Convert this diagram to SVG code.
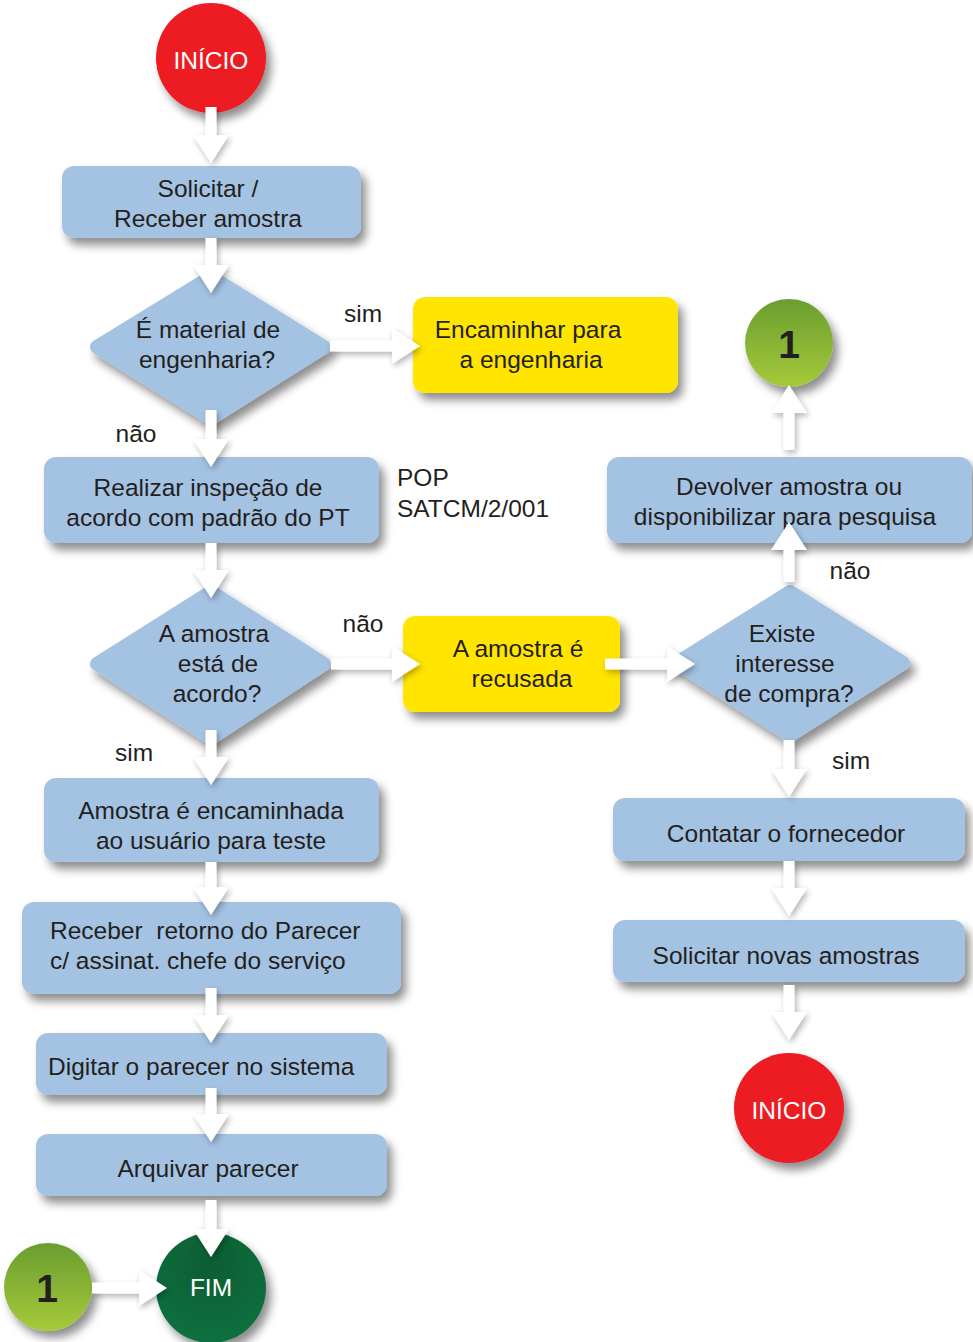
<svg xmlns="http://www.w3.org/2000/svg" width="973" height="1342" viewBox="0 0 973 1342">
<defs>
<filter id="sh" x="-20%" y="-20%" width="150%" height="160%">
<feGaussianBlur in="SourceAlpha" stdDeviation="5"/>
<feOffset dx="5" dy="7" result="b"/>
<feComponentTransfer><feFuncA type="linear" slope="0.45"/></feComponentTransfer>
<feMerge><feMergeNode/><feMergeNode in="SourceGraphic"/></feMerge>
</filter>
<filter id="ash" x="-50%" y="-50%" width="200%" height="200%">
<feGaussianBlur in="SourceAlpha" stdDeviation="3"/>
<feOffset dx="2" dy="3"/>
<feComponentTransfer><feFuncA type="linear" slope="0.3"/></feComponentTransfer>
<feMerge><feMergeNode/><feMergeNode in="SourceGraphic"/></feMerge>
</filter>
<linearGradient id="gg" x1="0" y1="0" x2="0" y2="1">
<stop offset="0" stop-color="#6a9d30"/>
<stop offset="1" stop-color="#a6ca3a"/>
</linearGradient>
<radialGradient id="fg" cx="0.5" cy="0.3" r="0.7">
<stop offset="0" stop-color="#0a5e32"/>
<stop offset="1" stop-color="#107040"/>
</radialGradient>
</defs>
<style>
.box{fill:#a4c2e2;filter:url(#sh)}
.yel{fill:#ffe500;filter:url(#sh)}
.dia{fill:#a4c2e2;stroke:#a4c2e2;stroke-width:14;stroke-linejoin:round;filter:url(#sh)}
.t{font-family:"Liberation Sans",Arial,sans-serif;font-size:24.5px;fill:#231f20;text-anchor:middle}
.l{text-anchor:start}
.w{fill:#ffffff}
.one{font-family:"Liberation Sans",Arial,sans-serif;font-size:39px;font-weight:bold;fill:#231f20;text-anchor:middle}
.arr{fill:#ffffff;filter:url(#ash)}
</style>
<rect width="973" height="1342" fill="#ffffff"/>

<g id="inicio1"><circle cx="211" cy="58" r="55" fill="#ed1c24" filter="url(#sh)"/><text class="t w" x="211" y="69">INÍCIO</text></g>
<g id="solicitar"><rect class="box" x="62" y="166" width="299" height="72" rx="12"/><text class="t" x="208" y="197">Solicitar /</text><text class="t" x="208" y="227">Receber amostra</text></g>
<g id="dec1"><polygon class="dia" points="97,347 211,277 324,347 211,418"/><text class="t" x="208" y="338">É material de</text><text class="t" x="207" y="368">engenharia?</text></g>
<g id="encaminhar"><rect class="yel" x="413" y="297" width="265" height="96" rx="12"/><text class="t" x="528" y="338">Encaminhar para</text><text class="t" x="531" y="368">a engenharia</text></g>
<g id="realizar"><rect class="box" x="44" y="457" width="335" height="86" rx="12"/><text class="t" x="208" y="496">Realizar inspeção de</text><text class="t" x="208" y="526">acordo com padrão do PT</text></g>
<g id="pop"><text class="t l" x="397" y="486">POP</text><text class="t l" x="397" y="517">SATCM/2/001</text></g>
<g id="dec2"><polygon class="dia" points="97,664 211,592 324,664 211,738"/><text class="t" x="214" y="642">A amostra</text><text class="t" x="218" y="672">está de</text><text class="t" x="217" y="702">acordo?</text></g>
<g id="recusada"><rect class="yel" x="403" y="616" width="217" height="96" rx="12"/><text class="t" x="518" y="657">A amostra é</text><text class="t" x="522" y="687">recusada</text></g>
<g id="dec3"><polygon class="dia" points="677,663 790,592 903,663 790,735"/><text class="t" x="782" y="642">Existe</text><text class="t" x="785" y="672">interesse</text><text class="t" x="789" y="702">de compra?</text></g>
<g id="devolver"><rect class="box" x="607" y="457" width="365" height="86" rx="12"/><text class="t" x="789" y="495">Devolver amostra ou</text><text class="t" x="785" y="525">disponibilizar para pesquisa</text></g>
<g id="con1a"><circle cx="789" cy="343" r="44" fill="url(#gg)" filter="url(#sh)"/><text class="one" x="789" y="358">1</text></g>
<g id="amostra"><rect class="box" x="44" y="778" width="335" height="84" rx="12"/><text class="t" x="211" y="819">Amostra é encaminhada</text><text class="t" x="211" y="849">ao usuário para teste</text></g>
<g id="contatar"><rect class="box" x="613" y="798" width="352" height="63" rx="12"/><text class="t" x="786" y="842">Contatar o fornecedor</text></g>
<g id="receber"><rect class="box" x="22" y="902" width="379" height="92" rx="12"/><text class="t l" x="50" y="939" xml:space="preserve">Receber  retorno do Parecer</text><text class="t l" x="50" y="969">c/ assinat. chefe do serviço</text></g>
<g id="novas"><rect class="box" x="613" y="920" width="352" height="62" rx="12"/><text class="t" x="786" y="964">Solicitar novas amostras</text></g>
<g id="digitar"><rect class="box" x="36" y="1033" width="351" height="62" rx="12"/><text class="t l" x="48" y="1075">Digitar o parecer no sistema</text></g>
<g id="inicio2"><circle cx="789" cy="1108" r="55" fill="#ed1c24" filter="url(#sh)"/><text class="t w" x="789" y="1119">INÍCIO</text></g>
<g id="arquivar"><rect class="box" x="36" y="1134" width="351" height="62" rx="12"/><text class="t" x="208" y="1177">Arquivar parecer</text></g>
<g id="fim"><circle cx="211" cy="1288" r="55" fill="url(#fg)" filter="url(#sh)"/><text class="t w" x="211" y="1296">FIM</text></g>
<g id="con1b"><circle cx="48" cy="1287" r="44" fill="url(#gg)" filter="url(#sh)"/><text class="one" x="47" y="1302">1</text></g>

<g id="labels">
<text class="t" x="363" y="322">sim</text>
<text class="t" x="136" y="442">não</text>
<text class="t" x="363" y="632">não</text>
<text class="t" x="850" y="579">não</text>
<text class="t" x="134" y="761">sim</text>
<text class="t" x="851" y="769">sim</text>
</g>

<g id="connectors">
<polygon class="arr" points="205.5,107 216.5,107 216.5,135 229,135 211,163 193,135 205.5,135"/>
<polygon class="arr" points="205.5,238 216.5,238 216.5,265 229,265 211,293 193,265 205.5,265"/>
<polygon class="arr" points="205.5,410 216.5,410 216.5,439 229,439 211,467 193,439 205.5,439"/>
<polygon class="arr" points="205.5,543 216.5,543 216.5,570 229,570 211,598 193,570 205.5,570"/>
<polygon class="arr" points="205.5,730 216.5,730 216.5,757 229,757 211,785 193,757 205.5,757"/>
<polygon class="arr" points="205.5,862 216.5,862 216.5,887 229,887 211,915 193,887 205.5,887"/>
<polygon class="arr" points="205.5,988 216.5,988 216.5,1015 229,1015 211,1043 193,1015 205.5,1015"/>
<polygon class="arr" points="205.5,1088 216.5,1088 216.5,1114 229,1114 211,1142 193,1114 205.5,1114"/>
<polygon class="arr" points="205.5,1200 216.5,1200 216.5,1229 229,1229 211,1257 193,1229 205.5,1229"/>
<polygon class="arr" points="783.5,740 794.5,740 794.5,769 807,769 789,797 771,769 783.5,769"/>
<polygon class="arr" points="783.5,861 794.5,861 794.5,888 807,888 789,916 771,888 783.5,888"/>
<polygon class="arr" points="783.5,985 794.5,985 794.5,1012 807,1012 789,1040 771,1012 783.5,1012"/>
<polygon class="arr" points="783.5,582 794.5,582 794.5,550 807,550 789,522 771,550 783.5,550"/>
<polygon class="arr" points="783.5,450 794.5,450 794.5,413 807,413 789,385 771,413 783.5,413"/>
<polygon class="arr" points="330,340.5 330,351.5 392,351.5 392,364 420,346 392,328 392,340.5"/>
<polygon class="arr" points="331,658.5 331,669.5 392,669.5 392,682 420,664 392,646 392,658.5"/>
<polygon class="arr" points="605,658.5 605,669.5 667,669.5 667,682 695,664 667,646 667,658.5"/>
<polygon class="arr" points="92,1282.5 92,1293.5 139,1293.5 139,1306 167,1288 139,1270 139,1282.5"/>
</g>
</svg>
